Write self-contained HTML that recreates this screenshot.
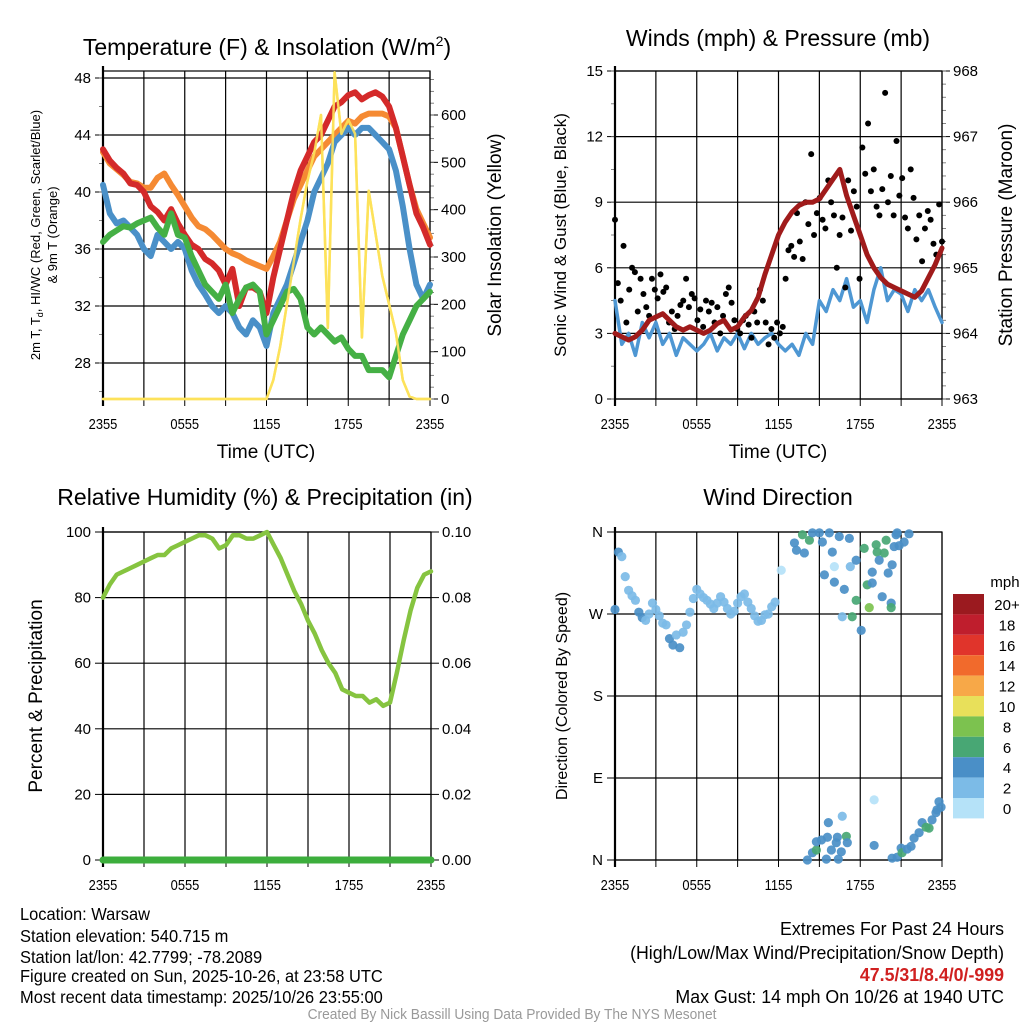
<!DOCTYPE html>
<html><head><meta charset="utf-8"><style>
html,body{margin:0;padding:0;background:#fff;}
svg{display:block;font-family:"Liberation Sans",sans-serif;}
</style></head><body>
<svg id="fig" width="1024" height="1024" viewBox="0 0 1024 1024" xmlns="http://www.w3.org/2000/svg">
<g id="g-temp"></g>
<g id="g-wind"></g>
<g id="g-rh"></g>
<g id="g-dir"></g>

<text x="267" y="55" font-size="23" text-anchor="middle">Temperature (F) &amp; Insolation (W/m<tspan font-size="14" dy="-9">2</tspan><tspan dy="9">)</tspan></text>
<text x="778" y="46" font-size="23" text-anchor="middle">Winds (mph) &amp; Pressure (mb)</text>
<text x="265" y="505" font-size="23" text-anchor="middle">Relative Humidity (%) &amp; Precipitation (in)</text>
<text x="778" y="505" font-size="23" text-anchor="middle">Wind Direction</text>

<text x="266" y="458" font-size="19" text-anchor="middle">Time (UTC)</text>
<text x="778" y="458" font-size="19" text-anchor="middle">Time (UTC)</text>

<text transform="translate(40,235) rotate(-90)" font-size="13" text-anchor="middle">2m T, T<tspan font-size="9" dy="3">d</tspan><tspan dy="-3">, HI/WC (Red, Green, Scarlet/Blue)</tspan></text>
<text transform="translate(57,235) rotate(-90)" font-size="13" text-anchor="middle">&amp; 9m T (Orange)</text>
<text transform="translate(501,235) rotate(-90)" font-size="19" text-anchor="middle">Solar Insolation (Yellow)</text>
<text transform="translate(566,235) rotate(-90)" font-size="17" text-anchor="middle">Sonic Wind &amp; Gust (Blue, Black)</text>
<text transform="translate(1012,235) rotate(-90)" font-size="19" text-anchor="middle">Station Pressure (Maroon)</text>
<text transform="translate(42,696) rotate(-90)" font-size="19" text-anchor="middle">Percent &amp; Precipitation</text>
<text transform="translate(567,696) rotate(-90)" font-size="16" text-anchor="middle">Direction (Colored By Speed)</text>

<g id="cbar"></g>
<text x="1005" y="587" font-size="15" text-anchor="middle">mph</text>

<g transform="translate(20,0) scale(0.94,1)" font-size="17.5">
<text x="0" y="920">Location: Warsaw</text>
<text x="0" y="942">Station elevation: 540.715 m</text>
<text x="0" y="963">Station lat/lon: 42.7799; -78.2089</text>
<text x="0" y="982">Figure created on Sun, 2025-10-26, at 23:58 UTC</text>
<text x="0" y="1003">Most recent data timestamp: 2025/10/26 23:55:00</text>
</g>
<g transform="translate(1004,0) scale(0.96,1)" font-size="18.5" text-anchor="end">
<text x="0" y="935">Extremes For Past 24 Hours</text>
<text x="0" y="959">(High/Low/Max Wind/Precipitation/Snow Depth)</text>
<text x="0" y="981" font-weight="bold" fill="#d02020">47.5/31/8.4/0/-999</text>
<text x="0" y="1003">Max Gust: 14 mph On 10/26 at 1940 UTC</text>
</g>
<g transform="translate(512,0) scale(0.95,1)">
<text x="0" y="1019" font-size="14.5" fill="#999" text-anchor="middle">Created By Nick Bassill Using Data Provided By The NYS Mesonet</text>
</g>
</svg>
<script>
// ---- data (half-hourly, 23:55 -> 23:55) ----
const timeTicks = ["2355","0555","1155","1755","2355"];
const tempTicks = [28,32,36,40,44,48];
const solarTicks = [0,100,200,300,400,500,600];
const tempRed = [43,42.2,41.7,41.3,40.6,40.5,40,39,38.6,38,38.8,37.8,37,36.3,36,35.3,35,34.5,33.5,34.6,32,33.3,33.3,33,31.5,34,36,38,40,41.5,42.5,43.5,44,45,46,46.3,46.8,47,46.5,46.8,47,46.7,46,44.5,42.5,40.5,38.5,37.5,36.3];
const tempOrange = [42.8,42,41.6,41.2,40.7,40.6,40.3,40.3,41,41.3,40.5,39.8,39,38.2,37.6,37.4,37,36.5,36,35.7,35.5,35.2,35,34.8,34.6,35.5,36.5,38,39.5,40.5,41.5,42.5,43,43.5,44,44.5,45,44.8,45.3,45.5,45.5,45.5,45.3,44.5,42.5,40.5,38.8,37.8,36.8];
const tempBlue = [40.5,38.5,37.8,38,37.5,37,36,35.5,37,36.5,36,36.5,36,34.5,33.5,32.8,32,31.5,32,31.5,30.5,30,31,30.5,29.2,31.5,32.5,33.5,35,36.5,38,40,41,42,43.5,44,44.5,44,44.5,44.5,44,43.5,43,41.5,39,36,33.5,32.5,33.5];
const tempGreen = [36.5,37,37.3,37.6,37.5,37.8,38,38.2,37.5,37,38.5,37,36.8,35.5,34.5,33.5,33,32.5,33.5,31.5,32.5,33.3,33.5,33,30,31,32,33,33.2,32.5,30.5,30,30.5,30,29.5,29.8,29,28.5,28.5,27.5,27.5,27.5,27,28.5,30,31,32,32.5,33];
const solar = [0,0,0,0,0,0,0,0,0,0,0,0,0,0,0,0,0,0,0,0,0,0,0,0,0,40,110,200,290,380,460,520,600,150,690,560,590,560,130,440,350,260,200,140,40,5,0,0,0];

const windTicks = [0,3,6,9,12,15];
const presTicks = [963,964,965,966,967,968];
const windSpeed = [4.5,2.5,3,2,3.5,2.8,3.5,2.5,3,2,2.8,2.5,2.2,2.5,3,2.2,2.8,2.5,3,2.3,3,2.5,2.8,3,2.5,2.2,2.5,2,3,2.5,4.5,4,5,4.5,5.5,4.2,4.5,3.5,5,6,4.5,5,4.8,4,5,4.5,5,4.2,3.5];
const gusts = [8.2,5.3,4.5,7,3.5,5,6,5.8,4,5.5,4.8,4.2,3.8,5.5,5,4.6,5.7,4.9,5.1,3.5,4,3.2,3.8,4.3,4.5,5.5,4.2,4.8,4.6,3.6,4.1,3.3,4.5,4,4.4,3.5,4.2,3,3.8,4.8,5.1,4.4,3.6,3.2,3,3.6,3.8,3.4,2.8,4,3.5,5,4.5,3.5,2.5,3.2,2.8,3.5,3,3.3,5.5,6.8,7,6.5,8.5,7.2,6.4,9,8,11.2,7.5,8.5,9.2,8.2,7.8,10,9,8.4,6,7.5,8.3,5.1,10,7.7,9.5,8.8,5.5,11.5,10.3,12.6,9.5,10.5,8.8,8.4,9.6,14,9,10.2,8.4,11.8,9.3,10.1,8.3,7.8,10.5,9.2,7.3,8.4,6.3,7.8,8.6,8.2,7.1,6.6,8.9,7.2];
const pressure = [964,963.95,963.9,963.95,964.05,964.2,964.25,964.3,964.2,964.1,964.05,964.1,964.05,964,964.05,964.15,964.2,964.05,964.1,964.25,964.35,964.55,964.9,965.2,965.5,965.7,965.85,965.95,966,966,966.05,966.2,966.35,966.5,966.1,965.8,965.5,965.2,965,964.85,964.75,964.7,964.65,964.6,964.55,964.65,964.85,965.05,965.3];

const rhTicks = [0,20,40,60,80,100];
const precipTicks = ["0.00","0.02","0.04","0.06","0.08","0.10"];
const rh = [80,84,87,88,89,90,91,92,93,93,95,96,97,98,99,99,98,95,96,99,99,98,98,99,100,96,92,87,82,78,73,69,64,60,57,52,51,50,50,48,49,47,48,57,67,76,83,87,88];
const precip = [0,0,0,0,0,0,0,0,0,0,0,0,0,0,0,0,0,0,0,0,0,0,0,0,0,0,0,0,0,0,0,0,0,0,0,0,0,0,0,0,0,0,0,0,0,0,0,0,0];

const dirLabels = ["N","E","S","W","N"];
const dirTimes = [0,0.25,0.5,0.75,1,1.25,1.5,1.75,2,2.25,2.5,2.75,3,3.25,3.5,3.75,4,4.25,4.5,4.75,5,5.25,5.5,5.75,6,6.25,6.5,6.75,7,7.25,7.5,7.75,8,8.25,8.5,8.75,9,9.25,9.5,9.75,10,10.25,10.5,10.75,11,11.25,11.5,11.75,12.2,
13.17,13.32,13.76,14.27,13.9,14.49,15.0,15.22,15.73,15.95,15.37,16.1,16.1,16.46,16.83,17.2,17.27,17.7,16.68,17.41,17.7,18.07,18.29,18.51,18.66,18.88,18.88,19.17,19.24,19.39,19.61,19.76,19.9,20.05,20.27,20.27,20.34,20.49,20.63,20.71,20.85,21.22,21.58,
14.12,14.49,14.78,14.78,15.15,15.51,15.59,15.66,15.88,16.24,16.32,16.39,16.61,16.68,16.98,17.05,19.02,19.02,20.34,20.71,21.0,21.07,21.44,21.73,21.95,22.32,22.54,22.83,23.05,23.27,23.56,23.63,23.78,23.93];
const dirValues = [275,338,333,311,296,290,285,272,266,263,270,282,275,268,260,258,243,236,247,233,250,258,272,287,297,292,288,285,281,276,282,289,283,276,270,273,282,289,292,283,276,268,262,263,269,270,278,283,318,
348,340,357,351,337,359,359,349,359,338,313,305,322,355,297,353,322,329,267,267,285,252,342,302,277,316,304,346,338,329,289,337,351,315,282,277,324,344,357,359,345,349,358,
0,8,11,20,22,1,25,41,11,19,25,1,9,48,26,19,16,66,2,3,13,8,12,15,24,30,41,36,35,44,52,55,64,58];
const dirSpeeds = [4,4,2,2,2,2,2,4,4,2,2,2,2,2,2,2,4,4,2,4,2,2,2,2,2,2,2,2,2,2,2,2,2,2,2,2,2,2,2,2,2,2,2,2,2,2,2,2,0,
4,4,6,6,4,4,4,4,4,4,4,4,0,4,4,4,2,4,2,6,6,4,6,6,8,4,4,6,6,4,4,6,6,4,4,6,4,4,4,4,4,4,4,
4,4,6,4,4,4,4,4,4,4,4,4,4,2,6,4,4,0,4,4,4,6,4,4,4,4,4,6,6,4,4,4,4,4];
const cbarLabels = ["20+","18","16","14","12","10","8","6","4","2","0"];
const cbarColors = ["#9b1a1f","#bf1e2d","#e0342b","#f16a2c","#f7a848","#e8e05a","#7cc24f","#48a774","#4a8fc7","#7cbbe7","#b5e2f8"];

// ---- helpers ----
const NS = "http://www.w3.org/2000/svg";
function mk(parent, tag, attrs){ const e=document.createElementNS(NS,tag); for(const k in attrs) e.setAttribute(k,attrs[k]); parent.appendChild(e); return e; }
function lin(d0,d1,r0,r1){ return v => r0 + (v-d0)*(r1-r0)/(d1-d0); }
function panelFrame(g, X0, X1, Y0, Y1, nameP){
  const xs = lin(0,24,X0,X1);
  for(let h=0; h<=24; h+=3){
    const l = mk(g,'line',{x1:xs(h),x2:xs(h),y1:Y0,y2:Y1,stroke:'#000','stroke-width':1.2});
    
    
    const t = mk(g,'line',{x1:xs(h),x2:xs(h),y1:Y1,y2:Y1+7,stroke:'#000','stroke-width':1});
    
    
  }
  timeTicks.forEach((lab,i)=>{
    const x = xs(i*6);
    const t = mk(g,'text',{x:0,y:Y1+30,'font-size':15,'text-anchor':'middle',transform:'translate('+x+',0) scale(0.86,1)'});
    t.textContent = lab;
    
    
  });
  const b = mk(g,'rect',{x:X0,y:Y0,width:X1-X0,height:Y1-Y0,fill:'none',stroke:'#000','stroke-width':1.2});
  
  
  const a = mk(g,'line',{x1:X0,x2:X0,y1:Y0-5,y2:Y1+7,stroke:'#000','stroke-width':2.2});
  
  
  return xs;
}
function yAxis(g, ys, ticks, labels, X0, X1, nameP, leftSide, hgrid, minorStep, dmin, dmax){
  ticks.forEach((v,i)=>{
    const y = ys(v);
    if(hgrid){ const l=mk(g,'line',{x1:X0,x2:X1,y1:y,y2:y,stroke:'#000','stroke-width':1.2});
      
       }
    const tx = leftSide ? X0 : X1;
    const tk = mk(g,'line',{x1:leftSide?tx-8:tx,x2:leftSide?tx:tx+8,y1:y,y2:y,stroke:'#000','stroke-width':1});
    
    
    const t = mk(g,'text',{x:leftSide?tx-12:tx+11,y:y+5,'font-size':15,'text-anchor':leftSide?'end':'start'});
    t.textContent = labels[i];
    
    
  });
  if(minorStep){
    for(let v=dmin; v<=dmax+1e-9; v+=minorStep){
      const y=ys(v); const tx = leftSide?X0:X1;
      const m = mk(g,'line',{x1:leftSide?tx-4:tx,x2:leftSide?tx:tx+4,y1:y,y2:y,stroke:'#666','stroke-width':0.8});
      
      
    }
  }
}
function polyline(g, xs, ys, vals, color, w, name){
  const n = vals.length;
  const pts = vals.map((v,i)=> xs(i*24/(n-1)).toFixed(1)+','+ys(v).toFixed(1)).join(' ');
  const p = mk(g,'polyline',{points:pts,fill:'none',stroke:color,'stroke-width':w,'stroke-linejoin':'round','stroke-linecap':'round'});
  
  
  return p;
}
function spdColor(s){ const idx = Math.max(0,Math.min(10, Math.floor(s/2))); return cbarColors[10-idx]; }

// ---- temperature panel ----
(function(){
  const g = document.getElementById('g-temp');
  const X0=103,X1=430,Y0=71,Y1=399;
  const ys = lin(48,28,78,363);
  const ysol = lin(0,600,399,115);
  yAxis(g, ys, tempTicks, tempTicks.map(String), X0, X1, 'temp-y', true, true, 2, 26, 48);
  yAxis(g, ysol, solarTicks, solarTicks.map(String), X0, X1, 'solar-y', false, false, 25, 0, 675);
  const xs = panelFrame(g, X0, X1, Y0, Y1, 'temp');
  polyline(g, xs, ysol, solar, '#fde25a', 2.5, 'solar-line');
  polyline(g, xs, ys, tempOrange, '#f58a33', 6, 'temp-9m-line');
  polyline(g, xs, ys, tempRed, '#d42a2a', 6, 'temp-2m-line');
  polyline(g, xs, ys, tempBlue, '#4a90c8', 6, 'heat-index-line');
  polyline(g, xs, ys, tempGreen, '#45b045', 6, 'dewpoint-line');
  polyline(g, xs, ysol, solar, '#fde25a', 2.5, 'solar-line-top').setAttribute('opacity','0.9');
})();

// ---- wind panel ----
(function(){
  const g = document.getElementById('g-wind');
  const X0=615,X1=942,Y0=71,Y1=399;
  const ys = lin(0,15,399,71);
  const yp = lin(963,968,399,71);
  yAxis(g, ys, windTicks, windTicks.map(String), X0, X1, 'wind-y', true, true, 1.5, 0, 15);
  yAxis(g, yp, presTicks, presTicks.map(String), X0, X1, 'pressure-y', false, false, 0.2, 963, 968);
  const xs = panelFrame(g, X0, X1, Y0, Y1, 'wind');
  polyline(g, xs, ys, windSpeed, '#4e97d3', 3.5, 'wind-speed-line');
  const n = gusts.length;
  gusts.forEach((v,i)=>{
    const c = mk(g,'circle',{cx:xs(i*24/(n-1)),cy:ys(v),r:3,fill:'#000'});
    
    
  });
  polyline(g, xs, yp, pressure, '#a01b1b', 5, 'pressure-line');
})();

// ---- humidity panel ----
(function(){
  const g = document.getElementById('g-rh');
  const X0=103,X1=431,Y0=532,Y1=860;
  const ys = lin(0,100,860,532);
  const yq = lin(0,0.1,860,532);
  yAxis(g, ys, rhTicks, rhTicks.map(String), X0, X1, 'rh-y', true, true, 0, 0, 0);
  yAxis(g, ys, rhTicks, precipTicks, X0, X1, 'precip-y', false, false, 0, 0, 0);
  const xs = panelFrame(g, X0, X1, Y0, Y1, 'rh');
  polyline(g, xs, ys, rh, '#86c440', 4.5, 'humidity-line');
  polyline(g, xs, yq, precip, '#3cae3c', 7, 'precip-line');
})();

// ---- direction panel ----
(function(){
  const g = document.getElementById('g-dir');
  const X0=615,X1=942,Y0=532,Y1=860;
  const ys = lin(0,360,860,532);
  yAxis(g, ys, [0,90,180,270,360], dirLabels, X0, X1, 'dir-y', true, true, 0, 0, 0);
  const xs = panelFrame(g, X0, X1, Y0, Y1, 'dir');
  dirValues.forEach((d,i)=>{
    const c = mk(g,'circle',{cx:xs(dirTimes[i]),cy:ys(d),r:4.6,fill:spdColor(dirSpeeds[i]),opacity:0.92});
    
    
  });
  const cb = document.getElementById('cbar');
  cbarColors.forEach((col,i)=>{
    const y = 594 + i*20.4;
    const r = mk(cb,'rect',{x:953,y:y,width:31,height:20.4,fill:col});
    
    
    const t = mk(cb,'text',{x:1007,y:y+16,'font-size':15,'text-anchor':'middle'});
    t.textContent = cbarLabels[i];
    
    
  });
})();
</script>
</body></html>
